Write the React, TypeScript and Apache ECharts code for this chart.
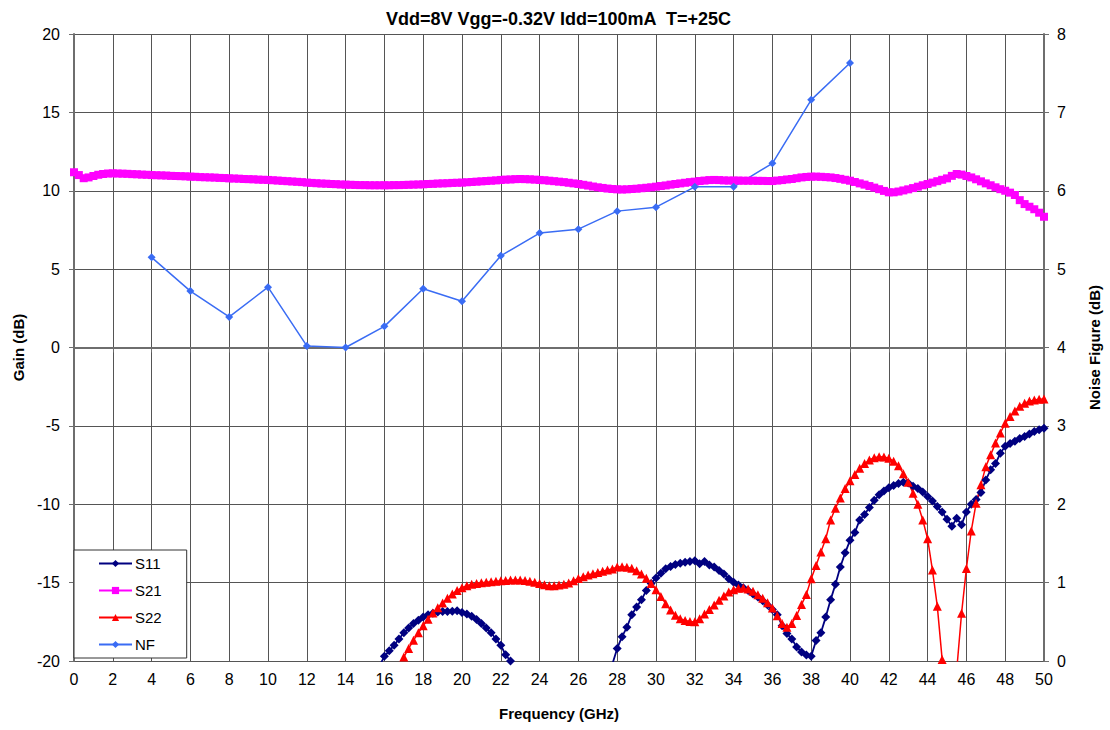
import React, { useEffect, useRef } from "react";
import * as echarts from "echarts";

const TITLE = "Vdd=8V Vgg=-0.32V Idd=100mA  T=+25C";
const X_NAME = "Frequency (GHz)";
const Y_NAME = "Gain (dB)";
const Y2_NAME = "Noise Figure (dB)";
const STEP = 0.25; // sweep spacing in GHz

// S21 (dB), sweep from 0 GHz
const S21_START = 0;
const S21 = [
  11.18, 11.0, 10.8, 10.85, 10.94, 11.02, 11.07, 11.1,
  11.11, 11.1, 11.09, 11.08, 11.06, 11.05, 11.03, 11.02,
  11.0, 10.99, 10.98, 10.97, 10.95, 10.94, 10.93, 10.92,
  10.9, 10.89, 10.87, 10.86, 10.85, 10.84, 10.82, 10.81,
  10.79, 10.78, 10.77, 10.75, 10.74, 10.73, 10.71, 10.7,
  10.69, 10.67, 10.65, 10.63, 10.61, 10.59, 10.57, 10.55,
  10.52, 10.5, 10.48, 10.46, 10.45, 10.43, 10.42, 10.4,
  10.39, 10.38, 10.37, 10.36, 10.36, 10.35, 10.35, 10.35,
  10.35, 10.35, 10.36, 10.36, 10.37, 10.38, 10.39, 10.4,
  10.41, 10.43, 10.44, 10.46, 10.47, 10.48, 10.5, 10.51,
  10.52, 10.54, 10.56, 10.58, 10.6, 10.62, 10.64, 10.66,
  10.69, 10.71, 10.72, 10.74, 10.75, 10.74, 10.73, 10.71,
  10.69, 10.67, 10.64, 10.61, 10.58, 10.55, 10.51, 10.47,
  10.43, 10.38, 10.33, 10.27, 10.22, 10.18, 10.14, 10.11,
  10.09, 10.08, 10.09, 10.11, 10.13, 10.16, 10.19, 10.22,
  10.26, 10.3, 10.34, 10.39, 10.43, 10.47, 10.51, 10.55,
  10.58, 10.62, 10.65, 10.68, 10.69, 10.68, 10.66, 10.65,
  10.65, 10.65, 10.64, 10.64, 10.64, 10.63, 10.63, 10.62,
  10.62, 10.65, 10.68, 10.72, 10.75, 10.8, 10.85, 10.88,
  10.9, 10.9, 10.89, 10.87, 10.85, 10.81, 10.76, 10.7,
  10.64, 10.56, 10.47, 10.39, 10.3, 10.2, 10.1, 9.99,
  9.9, 9.9, 9.95, 10.02, 10.09, 10.17, 10.26, 10.35,
  10.43, 10.52, 10.61, 10.7, 10.79, 10.95, 11.07, 11.03,
  10.94, 10.85, 10.73, 10.6, 10.47, 10.35, 10.22, 10.1,
  10.0, 9.88, 9.73, 9.4, 9.15, 8.98, 8.82, 8.6,
  8.34,
];

// S11 (dB), two visible stretches
const S11_A_START = 15.75;
const S11_A = [
  -20.3,
  -19.7, -19.35, -19.0, -18.6, -18.2, -17.9, -17.6, -17.4,
  -17.2, -17.05, -16.95, -16.88, -16.85, -16.85, -16.83, -16.8,
  -16.9, -17.0, -17.15, -17.35, -17.6, -17.9, -18.2, -18.6,
  -19.0, -19.6, -20.0, -20.6,
];
const S11_B_START = 27.75;
const S11_B = [
  -20.2,
  -19.2, -18.45, -17.85, -17.05, -16.55, -16.1, -15.5, -15.05,
  -14.7, -14.4, -14.12, -13.97, -13.85, -13.77, -13.7, -13.65,
  -13.6, -13.8, -13.66, -13.87, -14.0, -14.22, -14.45, -14.75,
  -14.97, -15.15, -15.33, -15.5, -15.72, -15.92, -16.15, -16.42,
  -16.72, -17.05, -17.75, -18.25, -18.6, -19.1, -19.42, -19.62,
  -19.7, -18.7, -18.2, -17.2, -16.1, -15.1, -14.0, -13.1,
  -12.3, -11.8, -11.0, -10.65, -10.2, -9.75, -9.4, -9.15,
  -8.95, -8.8, -8.68, -8.6, -8.65, -8.85, -9.0, -9.22,
  -9.5, -9.8, -10.15, -10.5, -10.95, -11.4, -10.9, -11.3,
  -10.5, -10.0, -9.7, -9.25, -8.45, -7.8, -7.4, -6.75,
  -6.3, -6.12, -5.98, -5.8, -5.68, -5.52, -5.36, -5.25,
  -5.15,
];

// S22 (dB)
const S22_START = 17.0;
const S22 = [
  -19.75, -19.2, -18.68, -18.2,
  -17.75, -17.33, -16.93, -16.6, -16.3, -16.0, -15.72, -15.5,
  -15.32, -15.2, -15.1, -15.05, -15.0, -14.98, -14.95, -14.92,
  -14.88, -14.86, -14.84, -14.83, -14.83, -14.86, -14.92, -14.98,
  -15.06, -15.13, -15.2, -15.2, -15.15, -15.1, -15.02, -14.88,
  -14.73, -14.62, -14.52, -14.44, -14.36, -14.28, -14.2, -14.13,
  -14.0, -13.98, -14.02, -14.09, -14.25, -14.45, -14.72, -15.05,
  -15.45, -15.88, -16.35, -16.75, -17.08, -17.3, -17.42, -17.48,
  -17.49, -17.3, -17.0, -16.72, -16.42, -16.12, -15.85, -15.6,
  -15.45, -15.36, -15.34, -15.4, -15.55, -15.78, -16.0, -16.28,
  -16.62, -17.12, -17.6, -17.85, -17.6, -17.1, -16.4, -15.75,
  -14.75, -13.9, -13.05, -12.2, -11.0, -10.25, -9.6, -9.0,
  -8.5, -8.1, -7.7, -7.4, -7.18, -7.03, -6.97, -6.98,
  -7.07, -7.25, -7.55, -8.05, -8.6, -9.3, -10.0, -11.0,
  -12.2, -14.2, -16.5, -19.9, -30.0, -30.0, -20.6, -16.96,
  -14.1, -11.7, -9.94, -8.75, -7.6, -6.85, -6.1, -5.45,
  -4.83, -4.4, -4.05, -3.75, -3.55, -3.42, -3.35, -3.3,
  -3.28,
];

// Noise figure (dB), right axis
const NF_FREQ = [4, 6, 8, 10, 12, 14, 16, 18, 20, 22, 24, 26, 28, 30, 32, 34, 36, 38, 40];
const NF = [5.15, 4.72, 4.39, 4.77, 4.02, 4.0, 4.27, 4.75, 4.59, 5.17, 5.46, 5.51, 5.74, 5.79, 6.05, 6.05, 6.35, 7.16, 7.63];

const FONT = "'Liberation Sans', Arial, Helvetica, sans-serif";

const toPairs = (start: number, vals: number[]) =>
  vals.map((v, i) => [start + i * STEP, v]);

export default function App() {
  const ref = useRef<HTMLDivElement>(null);
  useEffect(() => {
    const chart = echarts.init(ref.current!, null, { renderer: "svg" });
    const s11Data = [
      ...toPairs(S11_A_START, S11_A),
      [23, "-"],
      ...toPairs(S11_B_START, S11_B),
    ];
    const axisLine = { show: true, lineStyle: { color: "#6e6e6e", width: 2 } };
    const axisTick = { show: true, length: 5, lineStyle: { color: "#6e6e6e", width: 1 } };
    const labelStyle = { color: "#000", fontSize: 16, fontFamily: FONT };
    const nameStyle = { color: "#000", fontSize: 15, fontWeight: "bold" as const, fontFamily: FONT };
    chart.setOption({
      animation: false,
      backgroundColor: "#fff",
      textStyle: { fontFamily: FONT },
      title: {
        text: TITLE,
        left: 381,
        top: 5,
        textStyle: { color: "#000", fontSize: 18, fontWeight: "bold", fontFamily: FONT },
      },
      grid: { left: 74, right: 63, top: 34, bottom: 69, containLabel: false },
      legend: {
        orient: "vertical",
        left: 74,
        top: 550,
        padding: [6, 25, 6, 24],
        itemGap: 12,
        itemWidth: 33,
        itemHeight: 9,
        backgroundColor: "#fff",
        borderColor: "#333",
        borderWidth: 1,
        borderRadius: 0,
        textStyle: { color: "#000", fontSize: 15, fontFamily: FONT, lineHeight: 15, padding: [0, 0, 0, -2] },
        data: ["S11", "S21", "S22", "NF"],
      },
      xAxis: {
        type: "value",
        min: 0,
        max: 50,
        interval: 2,
        name: X_NAME,
        nameLocation: "middle",
        nameGap: 45,
        nameTextStyle: nameStyle,
        axisLine,
        axisTick,
        axisLabel: { ...labelStyle, margin: 10 },
        splitLine: { show: true, lineStyle: { color: "#555", width: 1 } },
      },
      yAxis: [
        {
          type: "value",
          min: -20,
          max: 20,
          interval: 5,
          position: "left",
          name: Y_NAME,
          nameLocation: "middle",
          nameRotate: 90,
          nameGap: 46,
          nameTextStyle: nameStyle,
          axisLine,
          axisTick,
          axisLabel: { ...labelStyle, margin: 14 },
          splitLine: { show: true, lineStyle: { color: "#555", width: 1 } },
        },
        {
          type: "value",
          min: 0,
          max: 8,
          interval: 1,
          position: "right",
          name: Y2_NAME,
          nameLocation: "middle",
          nameRotate: 90,
          nameGap: 43,
          nameTextStyle: nameStyle,
          axisLine,
          axisTick,
          axisLabel: { ...labelStyle, margin: 13 },
          splitLine: { show: false },
        },
      ],
      series: [
        {
          name: "S11",
          type: "line",
          data: s11Data,
          yAxisIndex: 0,
          clip: true,
          connectNulls: false,
          symbol: "diamond",
          symbolSize: 9,
          showAllSymbol: true,
          color: "#000080",
          lineStyle: { color: "#000080", width: 1.8 },
          itemStyle: { color: "#000080" },
        },
        {
          name: "S21",
          type: "line",
          data: toPairs(S21_START, S21),
          yAxisIndex: 0,
          clip: true,
          symbol: "rect",
          symbolSize: 8,
          showAllSymbol: true,
          color: "#ff00ff",
          lineStyle: { color: "#ff00ff", width: 2 },
          itemStyle: { color: "#ff00ff" },
        },
        {
          name: "S22",
          type: "line",
          data: toPairs(S22_START, S22),
          yAxisIndex: 0,
          clip: true,
          symbol: "triangle",
          symbolSize: 9,
          showAllSymbol: true,
          color: "#ff0000",
          lineStyle: { color: "#ff0000", width: 1.5 },
          itemStyle: { color: "#ff0000" },
        },
        {
          name: "NF",
          type: "line",
          data: NF_FREQ.map((f, i) => [f, NF[i]]),
          yAxisIndex: 1,
          clip: true,
          symbol: "diamond",
          symbolSize: 8,
          showAllSymbol: true,
          color: "#3a6cf4",
          lineStyle: { color: "#3a6cf4", width: 1.5 },
          itemStyle: { color: "#3a6cf4" },
        },
      ],
    });
    return () => chart.dispose();
  }, []);
  return (
    <div
      ref={ref}
      style={{ position: "fixed", left: 0, top: 0, width: 1110, height: 730, background: "#fff" }}
    />
  );
}
